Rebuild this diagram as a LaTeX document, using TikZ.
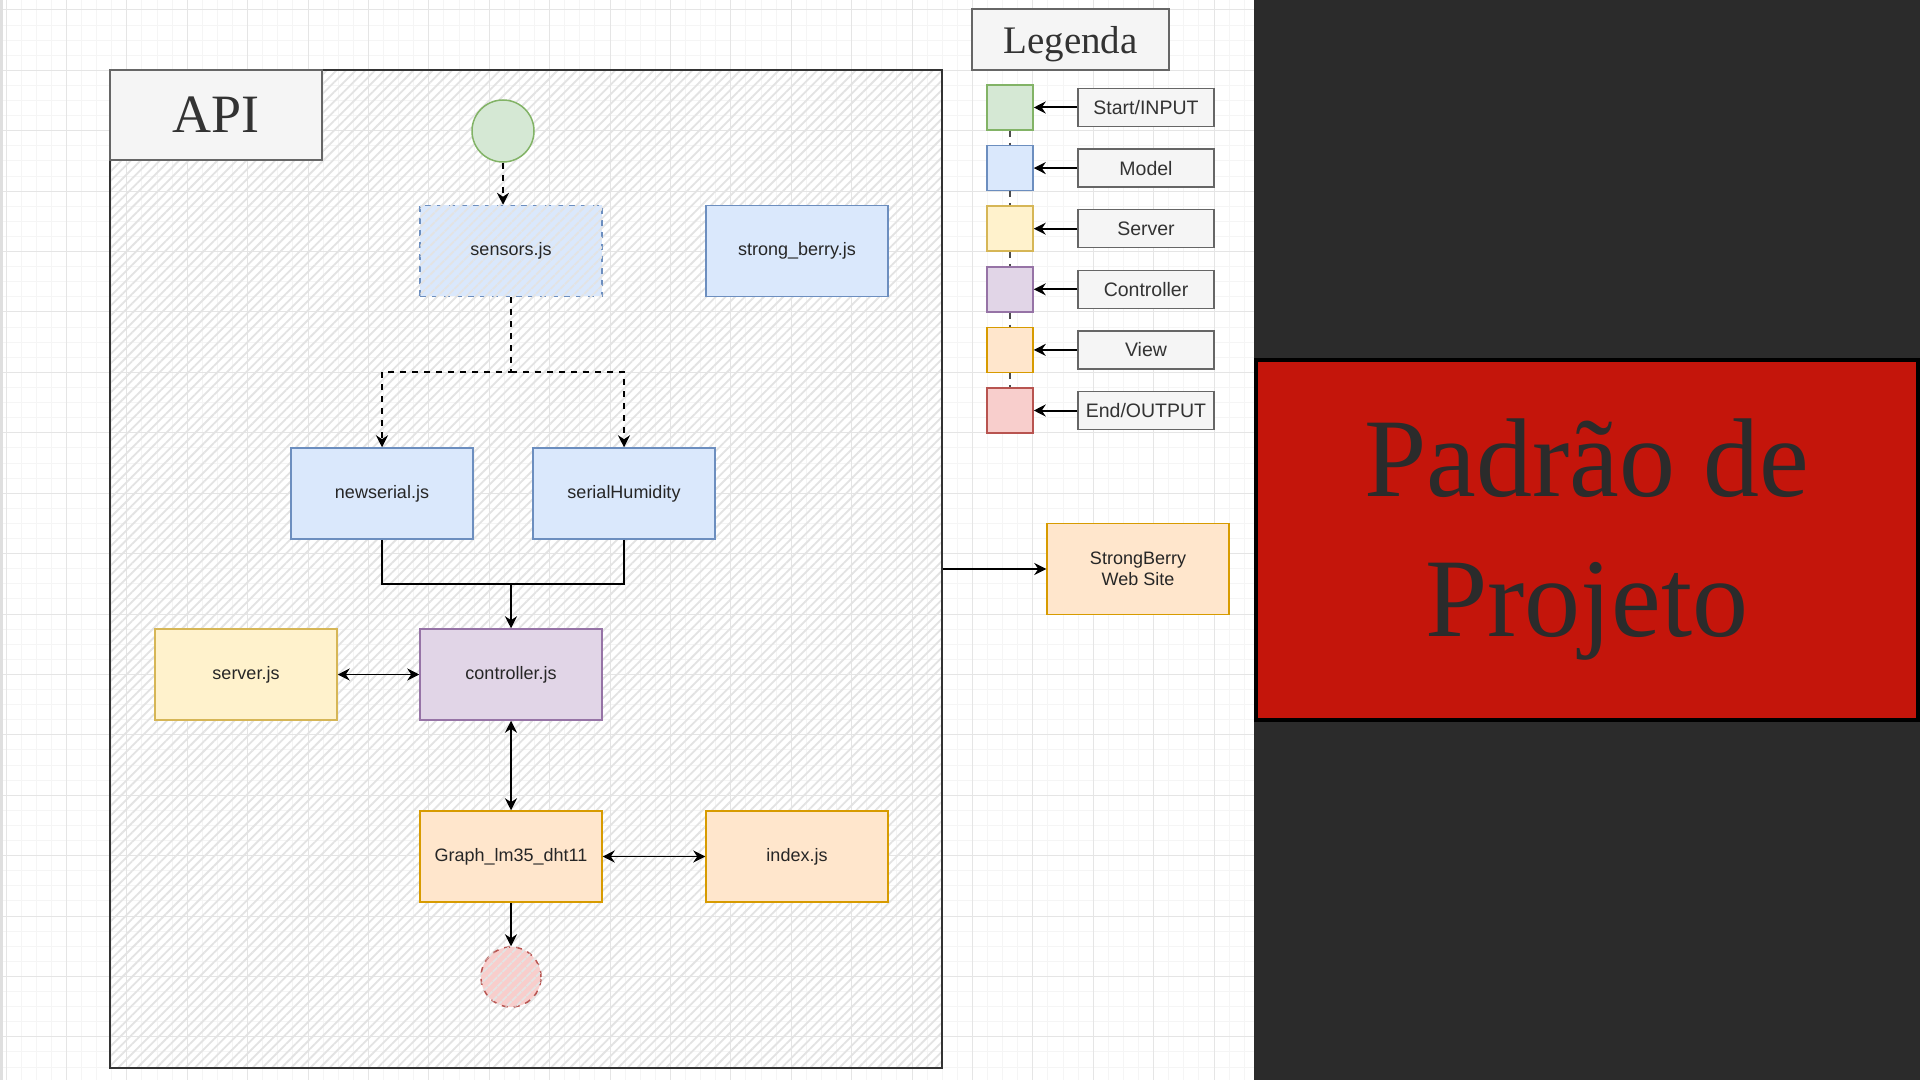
\documentclass[tikz,border=0pt]{standalone}
\usepackage{fontspec}
\setmainfont{Liberation Serif}
\setsansfont{Liberation Sans}
\usepackage{xcolor}
\usepackage{tikz}
\usetikzlibrary{positioning,arrows.meta,patterns.meta}

\definecolor{startfill}{HTML}{D5E8D4}
\definecolor{startline}{HTML}{82B366}
\definecolor{modelfill}{HTML}{DAE8FC}
\definecolor{modelline}{HTML}{6C8EBF}
\definecolor{serverfill}{HTML}{FFF2CC}
\definecolor{serverline}{HTML}{D6B656}
\definecolor{ctrlfill}{HTML}{E1D5E7}
\definecolor{ctrlline}{HTML}{9673A6}
\definecolor{viewfill}{HTML}{FFE6CC}
\definecolor{viewline}{HTML}{D79B00}
\definecolor{endfill}{HTML}{F8CECC}
\definecolor{endline}{HTML}{B85450}
\definecolor{boxfill}{HTML}{F5F5F5}
\definecolor{boxline}{HTML}{666666}
\definecolor{darkpanel}{HTML}{2B2B2B}
\definecolor{titlered}{HTML}{C4150B}

\begin{document}
\begin{tikzpicture}[x=0.5pt,y=-0.5pt,node distance=7.05pt,>={Stealth[length=6pt,width=6pt,inset=2pt]},
    file node/.style={rectangle,draw,line width=0.75pt,minimum width=91pt,minimum height=45.5pt,font=\sffamily\fontsize{9}{10.5}\selectfont,text=black!85},
    model/.style={fill=modelfill,draw=modelline},
    server/.style={fill=serverfill,draw=serverline},
    control/.style={fill=ctrlfill,draw=ctrlline},
    view/.style={fill=viewfill,draw=viewline},
    hatch/.style={pattern={Lines[angle=45,distance=3.4pt,line width=0.9pt]},pattern color=gray!22},
    hatched/.style={postaction={hatch}},
    legend box/.style={rectangle,draw,line width=0.75pt,minimum width=23pt,minimum height=22.5pt},
    legend label/.style={rectangle,draw=boxline,fill=boxfill,line width=0.75pt,minimum width=68pt,minimum height=19pt,font=\sffamily\fontsize{9.75}{11}\selectfont,text=black!80}]
        \tikzset{every edge/.style={draw,line width=0.75pt}}
        \useasboundingbox (0,0) rectangle (1920,1080);
        \fill[white] (0,0) rectangle (1254,1080);
        \draw[gray!8,line width=0.5pt,step=7.55pt,shift={(6,10)}] (-6,1070) grid (1248,-10);
        \draw[gray!20,line width=0.5pt,step=30.2pt,shift={(6,10)}] (-6,1070) grid (1248,-10);
        \draw[gray!25,line width=1.5pt] (1.5,0) -- (1.5,1080);
        \fill[darkpanel] (1254,0) rectangle (1920,1080);

        % API container
        \node[draw=black!80,line width=1pt,hatch,minimum width=416pt,minimum height=499pt] (api) at (526,569) {};
        \node[draw=boxline,fill=boxfill,line width=0.75pt,minimum width=106pt,minimum height=45pt,anchor=north west,font=\fontsize{27}{30}\selectfont,text=black!80] (apititle) at (api.north west) {API};

        \node[circle,draw=startline,fill=startfill,line width=0.75pt,minimum size=31pt] (start) at (503,131) {};
        \node[file node,model,dashed,hatched] (sensors) at (511,251) {sensors.js};
        \node[file node,model,right=51.25pt of sensors] (berry) {strong\_berry.js};
        \node[file node,model] (newserial) at (382,493.5) {newserial.js};
        \node[file node,model] (humidity) at (624,493.5) {serialHumidity};
        \node[file node,control] (controller) at (511,674.5) {controller.js};
        \node[file node,server,left=40.75pt of controller] (server) {server.js};
        \node[file node,view,below=44.75pt of controller] (graph) {Graph\_lm35\_dht11};
        \node[file node,view,right=51.25pt of graph] (index) {index.js};
        \node[circle,draw=endline,fill=endfill,dashed,hatched,line width=0.75pt,minimum size=30pt,below=21.75pt of graph] (end) {};
        \node[file node,view,align=center] (site) at (1138,569) {StrongBerry\\Web Site};

        \coordinate (fork) at (511,372);
        \coordinate (join) at (511,584);
        \path[->,dashed]
            (start) edge (start |- sensors.north);
        \draw[->,dashed,line width=0.75pt] (sensors) -- (fork) -| (newserial);
        \draw[->,dashed,line width=0.75pt] (fork) -| (humidity);
        \draw[line width=0.75pt] (newserial) |- (join);
        \draw[line width=0.75pt] (humidity) |- (join);
        \path[->]
            (join) edge (controller)
            (graph) edge (end)
            (api.east |- site) edge (site);
        \path[<->]
            (server) edge (controller)
            (controller) edge (graph)
            (graph) edge (index);

        % legend
        \node[draw=boxline,fill=boxfill,line width=0.75pt,minimum width=98.5pt,minimum height=30.5pt,text depth=0pt,font=\fontsize{19.5}{22}\selectfont,text=black!80] (legend) at (1070.5,39.5) {Legenda};
        \node[legend box,fill=startfill,draw=startline] (l1) at (1010,107.5) {};
        \node[legend box,fill=modelfill,draw=modelline,below=of l1] (l2) {};
        \node[legend box,fill=serverfill,draw=serverline,below=of l2] (l3) {};
        \node[legend box,fill=ctrlfill,draw=ctrlline,below=of l3] (l4) {};
        \node[legend box,fill=viewfill,draw=viewline,below=of l4] (l5) {};
        \node[legend box,fill=endfill,draw=endline,below=of l5] (l6) {};
        \node[legend label,right=21.75pt of l1] (t1) {Start/INPUT};
        \node[legend label,right=21.75pt of l2] (t2) {Model};
        \node[legend label,right=21.75pt of l3] (t3) {Server};
        \node[legend label,right=21.75pt of l4] (t4) {Controller};
        \node[legend label,right=21.75pt of l5] (t5) {View};
        \node[legend label,right=21.75pt of l6] (t6) {End/OUTPUT};
        \path[->,every edge/.append style={line width=1pt}]
            (t1) edge (l1)
            (t2) edge (l2)
            (t3) edge (l3)
            (t4) edge (l4)
            (t5) edge (l5)
            (t6) edge (l6);
        \path[dashed,every edge/.append style={draw=black!70}]
            (l1) edge (l2)
            (l2) edge (l3)
            (l3) edge (l4)
            (l4) edge (l5)
            (l5) edge (l6);

        % title
        \node[draw=black,line width=2.25pt,fill=titlered,minimum width=331pt,minimum height=180pt,align=center,font=\fontsize{56}{70}\selectfont,text=darkpanel] (title) at (1587,540) {Padrão de\\Projeto};
    \end{tikzpicture}
\end{document}
